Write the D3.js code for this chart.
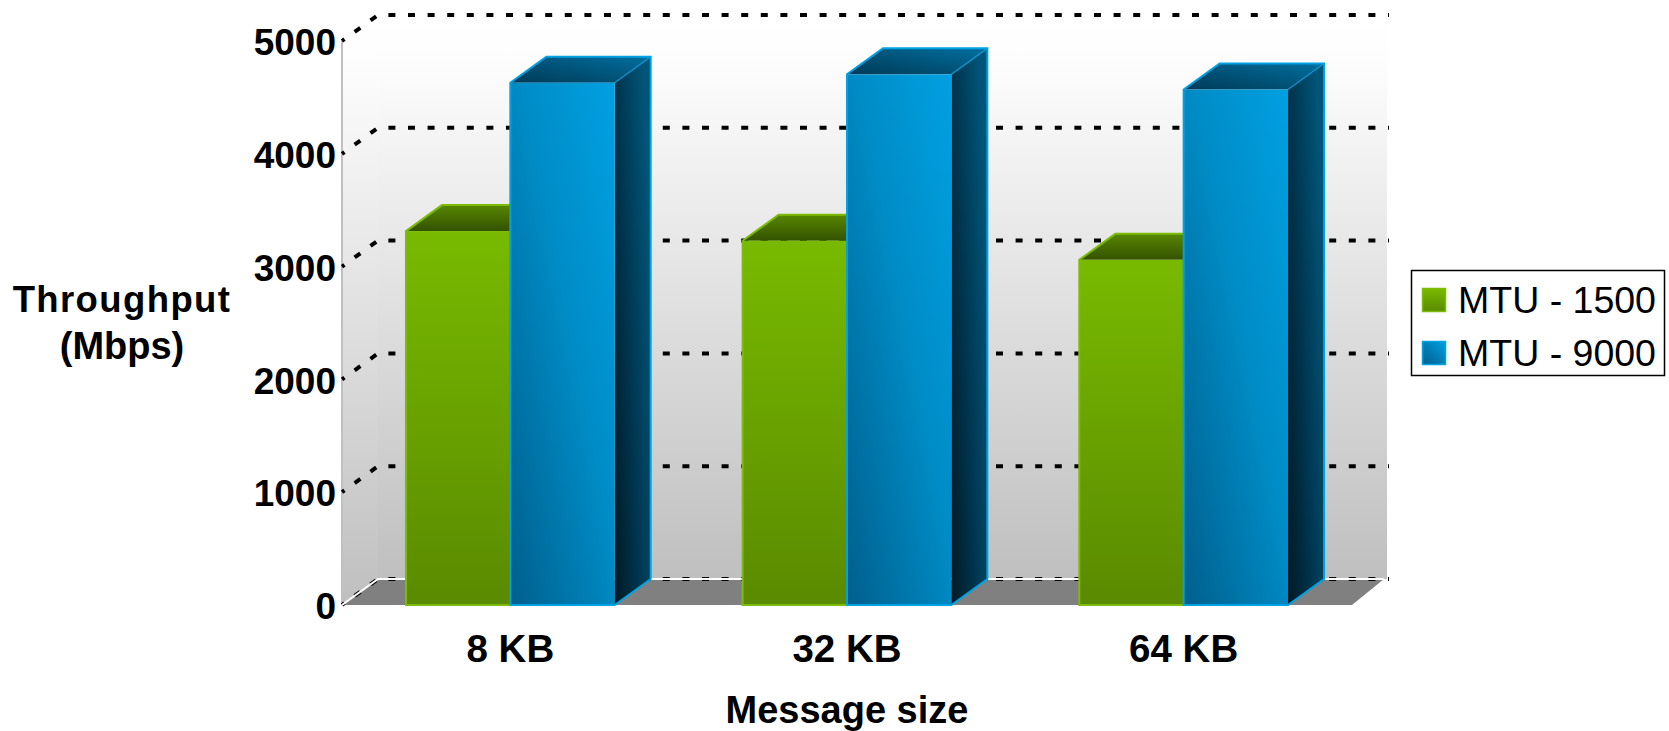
<!DOCTYPE html>
<html>
<head>
<meta charset="utf-8">
<style>
  html, body { margin: 0; padding: 0; background: #fff; }
  svg { display: block; }
  text { font-family: "Liberation Sans", Arial, sans-serif; fill: #000; }
</style>
<script src="https://cdn.jsdelivr.net/npm/d3@7/dist/d3.min.js"></script>
</head>
<body>
<svg id="chart" width="1669" height="731"></svg>
<script>
const categories = ["8 KB", "32 KB", "64 KB"];
const seriesNames = ["MTU - 1500", "MTU - 9000"];
const mtu1500 = [3315, 3230, 3060];
const mtu9000 = [4630, 4705, 4570];
const valueTicks = [0, 1000, 2000, 3000, 4000, 5000];

const svg = d3.select("#chart");
const plot = { left: 342, right: 1352, bottom: 605, top: 41 };
const depth = { x: 36, y: 26 };

const y = d3.scaleLinear().domain([0, 5000]).range([plot.bottom, plot.top]);
const x = d3.scaleBand().domain(categories).range([plot.left, plot.right]).paddingInner(0.38).paddingOuter(0.19);
const inner = d3.scaleBand().domain(seriesNames).range([0, x.bandwidth()]);

const defs = svg.append("defs");
function gradient(id, x1, y1, x2, y2, stops) {
  const g = defs.append("linearGradient").attr("id", id)
    .attr("x1", x1).attr("y1", y1).attr("x2", x2).attr("y2", y2);
  stops.forEach(([o, c]) => g.append("stop").attr("offset", o).attr("stop-color", c));
}
gradient("wall", 0, 0, 0, 1, [[0, "#ffffff"], [0.085, "#fdfdfd"], [1, "#bfbfbf"]]);
gradient("greenFront", 0, 0, 0, 1, [[0, "#78ba00"], [1, "#5a8a00"]]);
gradient("greenTop", 0, 0, 0, 1, [[0, "#578700"], [1, "#345200"]]);
gradient("blueFront", 0, 1, 1, 0, [[0, "#005f8c"], [0.55, "#008cc6"], [1, "#00a0e2"]]);
gradient("blueSide", 0, 1, 1, 0.35, [[0, "#001923"], [0.5, "#003650"], [1, "#005578"]]);
gradient("blueTop", 0, 1, 1, 0, [[0, "#003a56"], [1, "#006f9f"]]);
gradient("swatchGreen", 0, 0, 0, 1, [[0, "#78ba00"], [1, "#5a8a00"]]);
gradient("swatchBlue", 0, 1, 1, 0, [[0, "#005f8c"], [1, "#00a0e2"]]);

const poly = pts => pts.map(p => p.join(",")).join(" ");

// Walls and floor of the 3D frame
const backLeft = plot.left + depth.x;
const backRight = plot.right + 35;
const backBottom = plot.bottom - depth.y;
const backTop = plot.top - depth.y;

svg.append("polygon")
  .attr("points", poly([[plot.left, plot.top], [backLeft, backTop], [backLeft, backBottom], [plot.left, plot.bottom]]))
  .attr("fill", "url(#wall)");
svg.append("rect")
  .attr("x", backLeft).attr("y", backTop)
  .attr("width", backRight - backLeft).attr("height", backBottom - backTop)
  .attr("fill", "url(#wall)");
svg.append("polygon")
  .attr("points", poly([[plot.left, plot.bottom], [backLeft, backBottom], [backRight - 3, backBottom], [plot.right, plot.bottom]]))
  .attr("fill", "#808080");
svg.append("line")
  .attr("x1", plot.left).attr("x2", plot.left)
  .attr("y1", plot.top).attr("y2", plot.bottom)
  .attr("stroke", "#c0c0c0").attr("stroke-width", 2);

// Dashed gridlines wrapping around the left and back walls
svg.append("g").selectAll("polyline").data(valueTicks).join("polyline")
  .attr("points", d => poly([[plot.left, y(d)], [backLeft, y(d) - depth.y], [backRight + 2, y(d) - depth.y]]))
  .attr("fill", "none")
  .attr("stroke", "#000")
  .attr("stroke-width", 4)
  .attr("stroke-dasharray", "7 12.6")
  .attr("stroke-dashoffset", 4);

// White edge where the floor meets the walls, laid over the zero gridline
svg.append("polyline")
  .attr("points", poly([[plot.left, plot.bottom], [backLeft, backBottom], [backRight - 3, backBottom]]))
  .attr("fill", "none").attr("stroke", "#fff").attr("stroke-width", 2);

// Bars: front face, roof and side, with a bright outline around the silhouette
function bar(group, value, series, fills) {
  const x0 = x(group) + inner(series);
  const x1 = x0 + inner.bandwidth();
  const yt = y(value);
  const yb = y(0);
  const g = svg.append("g");
  g.append("polygon")
    .attr("points", poly([[x1, yt], [x1 + depth.x, yt - depth.y], [x1 + depth.x, yb - depth.y], [x1, yb]]))
    .attr("fill", fills.side);
  g.append("polygon")
    .attr("points", poly([[x0, yt], [x0 + depth.x, yt - depth.y], [x1 + depth.x, yt - depth.y], [x1, yt]]))
    .attr("fill", fills.top);
  g.append("rect")
    .attr("x", x0).attr("y", yt)
    .attr("width", x1 - x0).attr("height", yb - yt)
    .attr("fill", fills.front);
  g.append("line")
    .attr("x1", x1).attr("y1", yt).attr("x2", x1 + depth.x).attr("y2", yt - depth.y)
    .attr("stroke", fills.edge).attr("stroke-width", 1.5).attr("stroke-opacity", 0.7);
  g.append("polygon")
    .attr("points", poly([
      [x0, yb], [x0, yt], [x0 + depth.x, yt - depth.y], [x1 + depth.x, yt - depth.y],
      [x1 + depth.x, yb - depth.y], [x1, yb]
    ]))
    .attr("fill", "none").attr("stroke", fills.edge).attr("stroke-width", 2);
}
const greenFills = { front: "url(#greenFront)", top: "url(#greenTop)", side: "#3c5c00", edge: "#7cbc04" };
const blueFills = { front: "url(#blueFront)", top: "url(#blueTop)", side: "url(#blueSide)", edge: "#00a2e4" };
categories.forEach((c, i) => {
  bar(c, mtu1500[i], seriesNames[0], greenFills);
  bar(c, mtu9000[i], seriesNames[1], blueFills);
});

// Axes
const yAxis = svg.append("g")
  .attr("transform", `translate(${plot.left - 6},0)`)
  .call(d3.axisLeft(y).tickValues(valueTicks).tickFormat(d3.format("d")).tickSize(0).tickPadding(0));
yAxis.select(".domain").remove();
yAxis.selectAll("text").attr("dy", "0.37em").style("font-size", "37px").style("font-weight", "bold")
  .style("font-family", '"Liberation Sans", Arial, sans-serif').attr("fill", "#000");

const xAxis = svg.append("g")
  .attr("transform", `translate(0,${plot.bottom})`)
  .call(d3.axisBottom(x).tickSize(0).tickPadding(30));
xAxis.select(".domain").remove();
xAxis.selectAll("text").style("font-size", "38.5px").style("font-weight", "bold")
  .style("font-family", '"Liberation Sans", Arial, sans-serif').attr("fill", "#000");

// Axis titles
const titleStyle = (sel, size) => sel.attr("text-anchor", "middle").style("font-size", size).style("font-weight", "bold");
svg.append("text").attr("x", 122).attr("y", 312).style("letter-spacing", "1.4px").text("Throughput").call(titleStyle, "36.5px");
svg.append("text").attr("x", 122).attr("y", 359).text("(Mbps)").call(titleStyle, "38px");
svg.append("text").attr("x", 847).attr("y", 722.5).text("Message size").call(titleStyle, "38px");

// Legend
const legend = svg.append("g");
legend.append("rect")
  .attr("x", 1411.5).attr("y", 270.5).attr("width", 253).attr("height", 105)
  .attr("fill", "#fff").attr("stroke", "#000").attr("stroke-width", 1.5);
const legendRows = legend.selectAll("g").data(seriesNames).join("g")
  .attr("transform", (d, i) => `translate(0,${i * 53})`);
legendRows.append("rect")
  .attr("x", 1422.5).attr("y", 288.5).attr("width", 23).attr("height", 23)
  .attr("fill", (d, i) => i ? "url(#swatchBlue)" : "url(#swatchGreen)")
  .attr("stroke", (d, i) => i ? blueFills.edge : greenFills.edge)
  .attr("stroke-width", 1.5);
legendRows.append("text")
  .attr("x", 1458).attr("y", 313)
  .style("font-size", "37.5px")
  .text(d => d);
</script>
</body>
</html>
